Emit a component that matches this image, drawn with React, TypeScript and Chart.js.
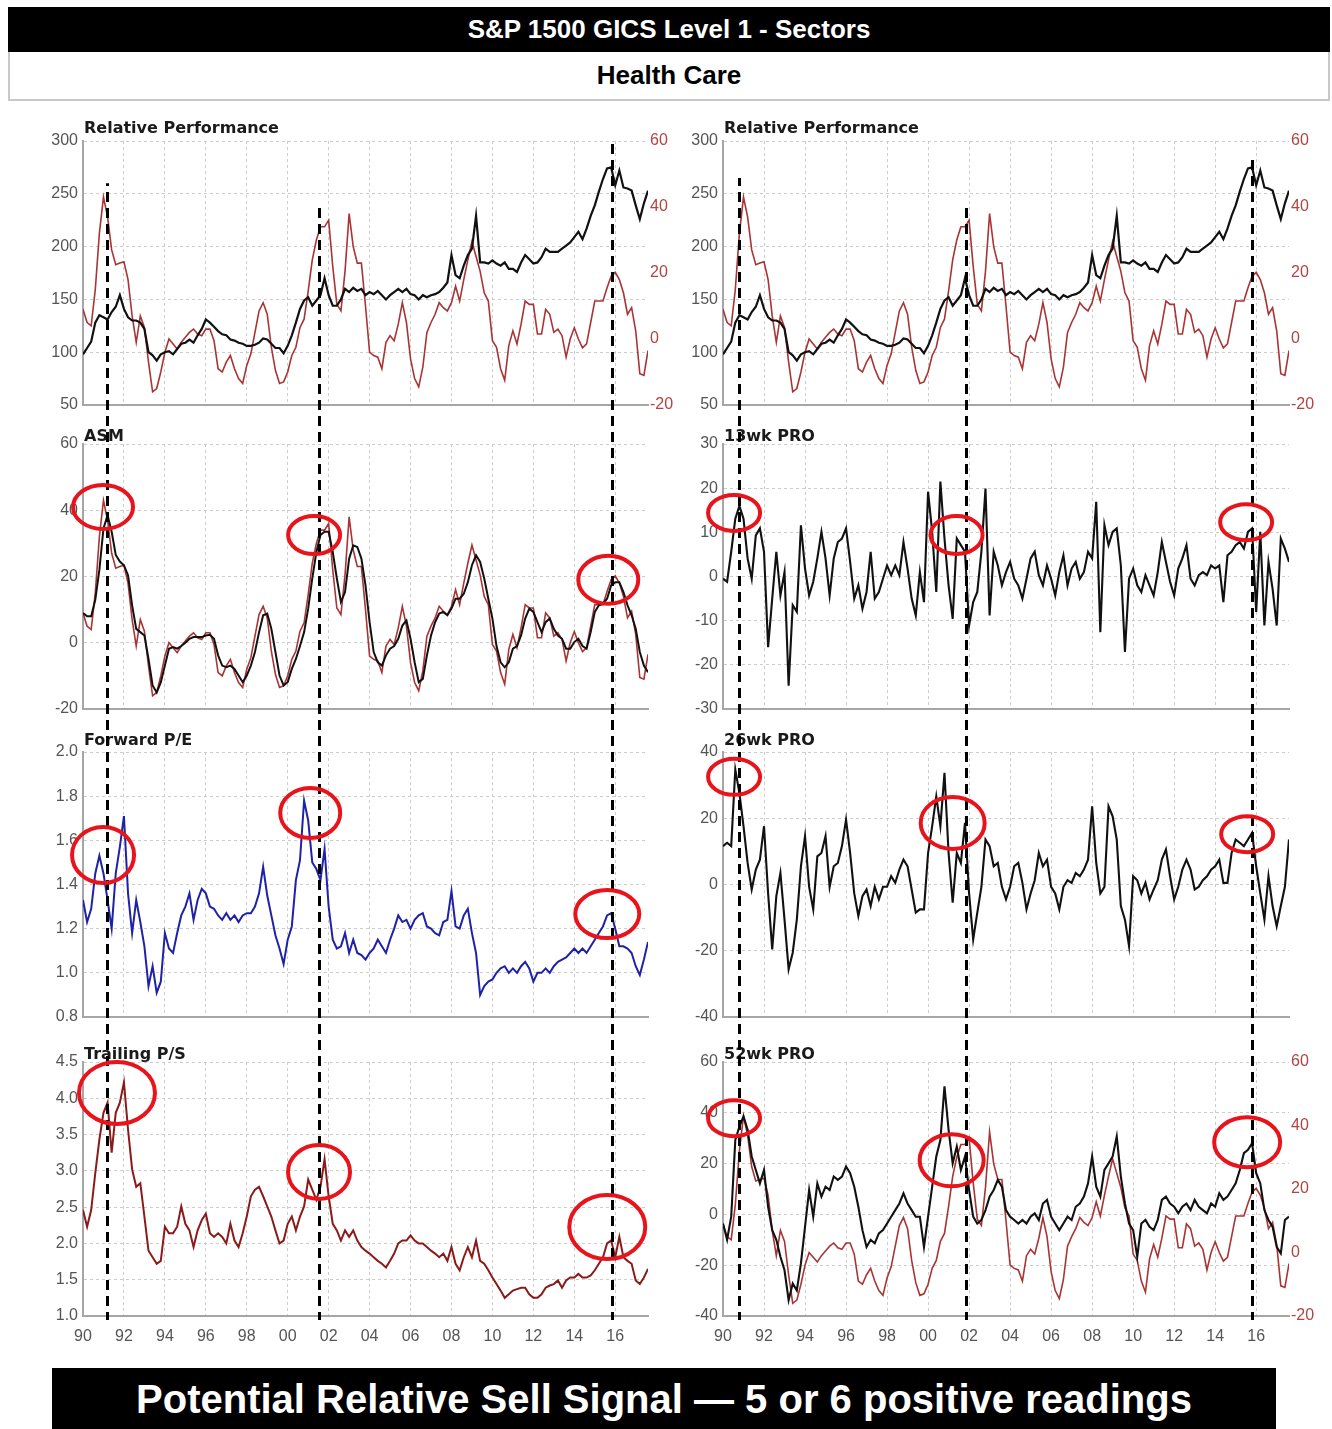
import React, { useEffect, useRef } from 'react';
import { Chart, registerables } from 'chart.js';

Chart.register(...registerables);
Chart.defaults.font.family = "'Liberation Sans', Arial, sans-serif";
Chart.defaults.font.size = 16;

// Samples every 0.2 year, 1990.0 ... 2017.6 (139 points)
const relPerf = [
  98, 104, 110, 128, 135,
  133, 131, 138, 143, 154,
  141, 133, 130, 130, 128,
  122, 100, 97, 92, 98,
  100, 101, 98, 103, 108,
  109, 112, 109, 116, 122,
  131, 128, 124, 120, 117,
  116, 112, 111, 109, 108,
  106, 106, 107, 109, 113,
  112, 108, 104, 104, 99,
  106, 116, 128, 141, 149,
  152, 144, 149, 154, 170,
  154, 144, 144, 150, 160,
  157, 161, 158, 160, 154,
  157, 155, 158, 154, 150,
  154, 157, 160, 157, 160,
  155, 154, 150, 154, 152,
  154, 155, 157, 161, 166,
  192, 173, 170, 182, 192,
  198, 229, 185, 185, 184,
  187, 184, 182, 185, 179,
  179, 176, 185, 192, 188,
  184, 185, 190, 198, 195,
  195, 195, 198, 201, 204,
  209, 214, 207, 217, 229,
  239, 252, 264, 274, 275,
  258, 272, 256, 255, 253,
  239, 226, 241, 253,
];

const asmFast = [
  9, 5, 4, 15, 32,
  43, 37, 27, 22.5, 23,
  23.4, 18, 7, -1, 7,
  3.5, -7, -16, -15, -10,
  -4, 0, -1.5, -3, -1,
  0.5, 2, 3, 1.5, 1,
  3, 3, -0.5, -9, -10,
  -7, -5, -9, -12, -13.5,
  -8, -4.5, 2, 8.5, 11,
  7.5, -2.5, -9.5, -13.5, -13,
  -10, -5, -2.5, 3.5, 6,
  14.5, 24, 30, 34, 34,
  36, 22, 10.5, 8.5, 20.5,
  38, 28, 23, 23, 10,
  -4, -5, -5.5, -9, -1,
  1, -0.5, 4.5, 11, 5,
  -6, -12, -14.5, -8.5, 2,
  5, 7.5, 11, 9.5, 8.5,
  11, 16, 11.5, 18, 24,
  29.5, 25, 20.5, 14, 11.5,
  -0.5, -2.5, -9, -12.5, -2,
  2.5, -1.5, 4.5, 11.5, 10.5,
  10.5, 1.5, 1.5, 9, 7.5,
  2, 3, 1, -5.5, 0,
  3.4, 0, -2.7, -1.5, 5,
  11.5, 11.5, 11.5, 15.5, 19,
  20.2, 18, 14, 7.5, 9.5,
  2.5, -10.5, -11, -3.5,
];

const asmSlow = [
  9, 8, 8, 13, 22,
  34.5, 38.5, 33.5, 26.5, 24.5,
  23.4, 20.4, 11.3, 4.2, 3.2,
  2.2, -4.9, -12.9, -15, -12,
  -6.9, -1.8, -1.3, -1.8, -1,
  0, 1.2, 1.7, 1.7, 1.7,
  2.2, 2.4, 1.2, -3.8, -6.9,
  -7.4, -6.9, -7.9, -9.9, -11.9,
  -9.9, -6.9, -2.8, 3.2, 8.3,
  8.8, 4.2, -2.8, -9.9, -12.9,
  -11.9, -7.9, -4.9, -1, 3.2,
  10.3, 19.4, 27.4, 32.5, 33.5,
  33.5, 27.4, 19.4, 12.3, 15.3,
  25.4, 29.4, 28.9, 25.4, 17.3,
  6.2, -2.8, -5.9, -6.9, -3.8,
  -1.8, -1, 1.2, 5.2, 6.7,
  1.2, -5.9, -11.9, -10.9, -3.8,
  2.2, 6.2, 8.8, 9.3, 8.3,
  10.3, 13.3, 13.3, 14.8, 18.3,
  23.4, 26.4, 24.4, 19.4, 13.3,
  7.3, -1, -5.9, -7.4, -5.9,
  -1.8, -1, 2.2, 7.3, 10.3,
  9.3, 6.2, 3.2, 6.2, 7.3,
  4.2, 2.2, 1.2, -1.8, -1.8,
  0.2, 1.2, -1, -1.8, 3.2,
  9.3, 11.3, 11.8, 13.3, 17.3,
  18.3, 18.3, 15.3, 11.3, 8.3,
  4.2, -2.8, -6.9, -8.9,
];

const fwdPE = [
  1.33, 1.23, 1.29, 1.45, 1.53,
  1.45, 1.33, 1.2, 1.45, 1.57,
  1.71, 1.36, 1.18, 1.33, 1.23,
  1.12, 0.94, 1.03, 0.91, 0.96,
  1.18, 1.11, 1.09, 1.18, 1.26,
  1.3, 1.36, 1.24, 1.33, 1.38,
  1.36, 1.3, 1.29, 1.26, 1.24,
  1.27, 1.24, 1.26, 1.23, 1.26,
  1.27, 1.27, 1.3, 1.36, 1.48,
  1.35, 1.26, 1.17, 1.11, 1.04,
  1.15, 1.21, 1.42, 1.51, 1.78,
  1.69, 1.5, 1.47, 1.42, 1.56,
  1.3, 1.15, 1.11, 1.12, 1.18,
  1.09, 1.15, 1.09, 1.08, 1.06,
  1.09, 1.11, 1.15, 1.12, 1.09,
  1.15, 1.2, 1.26, 1.23, 1.24,
  1.2, 1.24, 1.26, 1.27, 1.21,
  1.2, 1.18, 1.17, 1.23, 1.24,
  1.37, 1.21, 1.2, 1.26, 1.29,
  1.18, 1.09, 0.9, 0.94, 0.96,
  0.97, 1.0, 1.02, 1.03, 1.0,
  1.02, 1.0, 1.03, 1.05, 1.02,
  0.96, 1.0, 1.0, 1.02, 1.0,
  1.03, 1.05, 1.06, 1.07, 1.09,
  1.11, 1.09, 1.11, 1.09, 1.12,
  1.15, 1.18, 1.21, 1.26, 1.27,
  1.2, 1.12, 1.12, 1.11, 1.09,
  1.03, 0.99, 1.06, 1.14,
];

const trailPS = [
  2.46, 2.23, 2.46, 2.97, 3.43,
  3.8, 3.94, 3.25, 3.8, 3.94,
  4.22, 3.57, 3.02, 2.78, 2.83,
  2.37, 1.9, 1.81, 1.72, 1.76,
  2.23, 2.14, 2.14, 2.23, 2.51,
  2.27, 2.18, 1.95, 2.18, 2.32,
  2.41, 2.14, 2.09, 2.14, 2.09,
  2.0, 2.27, 2.04, 1.95, 2.14,
  2.37, 2.65, 2.74, 2.78, 2.65,
  2.51, 2.37, 2.18, 2.0, 2.04,
  2.27, 2.37, 2.18, 2.37, 2.51,
  2.88, 2.74, 2.6, 2.78, 3.16,
  2.65, 2.27, 2.18, 2.04, 2.18,
  2.09, 2.18, 2.04, 1.95, 1.9,
  1.86, 1.81, 1.76, 1.72, 1.67,
  1.76, 1.86, 2.0, 2.04, 2.04,
  2.11, 2.04, 2.0, 2.0, 1.95,
  1.9, 1.86, 1.81, 1.86, 1.76,
  1.95, 1.72, 1.63, 1.81, 1.95,
  1.81, 2.04, 1.76, 1.72, 1.63,
  1.53, 1.44, 1.35, 1.25, 1.3,
  1.35, 1.37, 1.39, 1.39, 1.3,
  1.25, 1.25, 1.3, 1.39, 1.42,
  1.44, 1.49, 1.39, 1.49, 1.53,
  1.53, 1.58, 1.53, 1.53, 1.56,
  1.63, 1.72, 1.81, 2.0, 2.04,
  1.81, 2.09, 1.81, 1.76, 1.72,
  1.49, 1.44, 1.53, 1.65,
];

const pro13 = [
  -0.5, -1.2, 5.6, 13.1, 16,
  13.1, 4.1, -0.5, 9.3, 10.9,
  5.6, -16, -5, 5.6, -4.3,
  1.0, -24.7, -6.5, -8, 11.6,
  1.8, -4.3, -1.2, 4.1, 10.1,
  4.1, -4.3, 4.1, 7.8, 8.6,
  10.9, 3.3, -5, -2, -7.3,
  -3.5, 5.6, -5, -3.5, -0.5,
  2.5, 0.3, 2.5, 0.3, 7.8,
  1.8, -5, -8.8, 1.0, -5.8,
  19.2, 10.1, -3.5, 21.5, 8.6,
  -2, -9.6, 8.6, 7.1, 5.6,
  -11.1, -5.8, -3.5, 5.6, 19.9,
  -8.8, 5.6, 2.5, -2, 1.0,
  3.3, -0.5, -2, -5, -0.5,
  4.1, 5.6, 0.3, -2, 2.5,
  -0.5, -4.3, 1.0, 4.8, -2,
  1.8, 3.3, -0.5, 1.0, 5.6,
  4.1, 16.9, -12.6, 11.6, 7.1,
  10.1, 10.9, 2.5, -17.1, -0.5,
  1.8, -2, -3.5, 0.3, -2,
  -4.3, 1.0, 7.8, 3.3, -1.2,
  -4.3, 1.8, 4.1, 7.1, -0.5,
  -2, 0.3, 1.0, 0.3, 2.5,
  1.8, 2.5, -5.8, 4.8, 5.6,
  7.1, 7.8, 6.3, 10.1, 10.9,
  -8, 10.1, -11.1, 3.3, -2.8,
  -11.1, 8.6, 6.3, 3.3,
];

const pro26 = [
  11.6, 12.6, 11.6, 34.7, 27.6,
  17.6, 6.5, -1.5, 4.5, 7.5,
  17.6, -2.7, -19.6, -3.5, 3.5,
  -10.6, -25.6, -20.6, -10.6, 5.5,
  14.6, -0.7, -7.5, 8.5, 9.5,
  14.6, -0.7, 5.5, 6.5, 11.6,
  19.6, 9.5, -2.7, -9.5, -3.5,
  -1.5, -6.5, -0.7, -4.5, -0.7,
  -0.7, 2.5, 0.5, 4.5, 7.5,
  5.5, -1.5, -8.5, -7.5, -7.5,
  9.5, 17.6, 26.6, 17.6, 33.7,
  9.5, -5.5, 9.5, 6.5, 18.6,
  -2.7, -16.6, -8.5, -0.7, 13.6,
  11.6, 5.5, 6.5, -0.7, -4.5,
  -0.7, 5.5, 6.5, 0.5, -7.5,
  -2.7, 1.3, 9.5, 5.5, 7.5,
  -0.7, -2.7, -7.5, -0.7, 1.3,
  0.5, 3.5, 2.5, 4.5, 7.5,
  23.6, 6.5, -2.7, -0.7, 23.6,
  20.6, 13.6, -6.5, -10.6, -18.6,
  2.5, 1.3, -2.7, 0.5, -4.5,
  -1.5, 1.3, 7.5, 10.6, 2.5,
  -4.5, -0.7, 4.5, 7.5, 4.5,
  -1.5, -0.7, 1.3, 2.5, 4.5,
  5.5, 7.5, 0.5, 0.5, 9.5,
  13.6, 12.6, 11.6, 13.6, 15.6,
  5.5, -2.7, -10.6, 2.5, -6.5,
  -12.6, -6.5, -0.7, 13.6,
];

const pro52 = [
  -3.6, -10, -0.9, 29.3, 34.6,
  38.6, 33.3, 22.8, 17.5, 12.2,
  17.5, 3.0, -6.2, -10, -16.7,
  -22, -33.8, -27.2, -29.9, -19.3,
  -4.9, 9.6, -0.9, 12.2, 7,
  10.9, 9.6, 14.9, 13.6, 14.9,
  18.8, 16.2, 10.9, 3, -6.2,
  -12.8, -10, -11.4, -7.5, -6.2,
  -3.6, -0.9, 1.7, 4.3, 8.3,
  4.3, 1.7, -0.9, -0.9, -12.8,
  -0.9, 10.9, 22.8, 29.3, 50.4,
  33.3, 20.1, 26.7, 17.5, 22.8,
  9.6, -0.9, -3.6, -2.2, 1.7,
  7, 9.6, 13.6, 10.9, 1.7,
  -0.9, -2.2, -3.6, -2.2, -3.6,
  -0.9, 0.4, -2.2, 4.3, 5.7,
  -0.9, -3.6, -6.2, -3.6, -0.9,
  -2.2, 3, 4.3, 7, 12.2,
  22.8, 10.9, 7, 17.5, 20.1,
  22.8, 30.7, 14.9, 4.3, -3.6,
  -6.2, -16.7, -3.6, -2.2, -4.9,
  -6.2, -2.2, 5.7, 7, 4.3,
  3, 0.4, 3, 4.3, 1.7,
  5.7, 3, 1.7, 0.4, 4.3,
  3, 8.3, 5.7, 7, 9.6,
  12.2, 17.5, 24.1, 25.4, 28,
  16.2, 12.2, 1.7, -2.2, -4.9,
  -12.8, -15.4, -2.2, -0.9,
];

// sample dates (decimal years)
const dates = relPerf.map((_, i) => Math.round((1990 + i * 0.2) * 10) / 10);
const X_MIN = 1990;
const X_MAX = 2017.6;

// sell-signal dates; "top" = value on the Relative Performance axis where the line starts
const leftSignals = [
  { x: 1991.17, top: 260 },
  { x: 2001.53, top: 237 },
  { x: 2015.85, top: 298 },
];
const rightSignals = [
  { x: 1990.8, top: 265 },
  { x: 2001.83, top: 237 },
  { x: 2015.8, top: 284 },
];

// highlighted readings (data-space centres)
const asmMarks = [{ x: 1990.98, y: 41 }, { x: 2001.29, y: 32.5 }, { x: 2015.66, y: 19 }];
const peMarks = [{ x: 1990.98, y: 1.534 }, { x: 2001.1, y: 1.724 }, { x: 2015.61, y: 1.266 }];
const psMarks = [{ x: 1991.66, y: 4.073 }, { x: 2001.53, y: 2.984 }, { x: 2015.61, y: 2.226 }];
const p13Marks = [{ x: 1990.54, y: 14.4 }, { x: 2001.39, y: 9.4 }, { x: 2015.51, y: 12.3 }];
const p26Marks = [{ x: 1990.54, y: 32.5 }, { x: 2001.2, y: 18.6 }, { x: 2015.56, y: 15.2 }];
const p52Marks = [{ x: 1990.54, y: 37.9 }, { x: 2001.15, y: 21.3 }, { x: 2015.56, y: 28.4 }];

// styles
const BLACK = '#111111';
const RED = '#a83434';
const MAROON = '#8a1b1b';
const BLUE = '#1f22a6';
const GRID = '#cccccc';
const AXIS = '#a6a6a6';
const TICK = '#555555';
const TICK_R = '#b04440';

const ROWS = [
  { top: 110, height: 314, padTop: 31, padBottom: 19 },
  { top: 424, height: 306, padTop: 20, padBottom: 21 },
  { top: 730, height: 310, padTop: 22, padBottom: 23 },
  { top: 1040, height: 320, padTop: 22, padBottom: 0 },
];
const COLS = [
  { left: 40, width: 640, axisW: 43, rightW: 32, signals: leftSignals },
  { left: 680, width: 650, axisW: 43, rightW: 41, signals: rightSignals },
];

const fix1 = (v: any) => Number(v).toFixed(1);
const plain = (v: any) => String(Math.round(Number(v)));

const rpPanel = {
  title: 'Relative Performance', titleDy: 8,
  y: { min: 50, max: 300, step: 50, fmt: plain },
  y2: { min: -20, max: 60, step: 20, fmt: plain },
  series: [
    { data: relPerf, color: BLACK, width: 2.2, axis: 'y' },
    { data: asmFast, color: RED, width: 1.6, axis: 'y2' },
  ],
  marks: [] as any[], rx: [] as number[], ry: [] as number[],
};

const panels = [
  [
    rpPanel,
    {
      title: 'ASM', titleDy: 3,
      y: { min: -20, max: 60, step: 20, fmt: plain },
      series: [
        { data: asmSlow, color: BLACK, width: 2, axis: 'y' },
        { data: asmFast, color: RED, width: 1.6, axis: 'y' },
      ],
      marks: asmMarks, rx: [30, 26, 30], ry: [22, 19, 24],
    },
    {
      title: 'Forward P/E', titleDy: 7,
      y: { min: 0.8, max: 2.0, step: 0.2, fmt: fix1 },
      series: [{ data: fwdPE, color: BLUE, width: 2, axis: 'y' }],
      marks: peMarks, rx: [31, 30, 32], ry: [28, 25, 24],
    },
    {
      title: 'Trailing P/S', titleDy: 3,
      y: { min: 1.0, max: 4.5, step: 0.5, fmt: fix1 },
      series: [{ data: trailPS, color: MAROON, width: 2, axis: 'y' }],
      marks: psMarks, rx: [38, 31, 38], ry: [31, 27, 32],
    },
  ],
  [
    rpPanel,
    {
      title: '13wk PRO', titleDy: 3,
      y: { min: -30, max: 30, step: 10, fmt: plain },
      series: [{ data: pro13, color: BLACK, width: 2.1, axis: 'y' }],
      marks: p13Marks, rx: [26, 26, 26], ry: [18, 19, 18],
    },
    {
      title: '26wk PRO', titleDy: 7,
      y: { min: -40, max: 40, step: 20, fmt: plain },
      series: [{ data: pro26, color: BLACK, width: 2.1, axis: 'y' }],
      marks: p26Marks, rx: [26, 32, 26], ry: [18, 26, 18],
    },
    {
      title: '52wk PRO', titleDy: 3,
      y: { min: -40, max: 60, step: 20, fmt: plain },
      y2: { min: -20, max: 60, step: 20, fmt: plain },
      series: [
        { data: pro52, color: BLACK, width: 2.1, axis: 'y' },
        { data: asmFast, color: RED, width: 1.6, axis: 'y2' },
      ],
      marks: p52Marks, rx: [26, 32, 33], ry: [18, 26, 25],
    },
  ],
];

function Panel({ cfg, col, row }: any) {
  const ref = useRef<HTMLCanvasElement>(null);
  const C = COLS[col];
  const R = ROWS[row];
  useEffect(() => {
    const isBottom = row === 3;
    const hasRight = !!cfg.y2;
    const overlay = {
      id: 'overlay' + col + row,
      afterDatasetsDraw(chart: any) {
        const { ctx, chartArea, scales } = chart;
        const xs = scales.x;
        const ys = scales.y;
        ctx.save();
        // panel title
        ctx.font = "bold 16px 'DejaVu Sans', Verdana, sans-serif";
        ctx.fillStyle = '#1a1a1a';
        ctx.textAlign = 'left';
        ctx.textBaseline = 'alphabetic';
        ctx.fillText(cfg.title, chartArea.left + 1, chartArea.top - cfg.titleDy);
        // dashed signal lines
        ctx.strokeStyle = '#000';
        ctx.lineWidth = 3;
        const period = 16;
        ctx.setLineDash([10, 6]);
        for (const s of C.signals) {
          const px = Math.round(xs.getPixelForValue(s.x)) + 0.5;
          const y0 = row === 0 ? ys.getPixelForValue(s.top) : 0;
          const y1 = isBottom ? chartArea.bottom + 4 : chart.height;
          ctx.lineDashOffset = (R.top + y0) % period;
          ctx.beginPath();
          ctx.moveTo(px, y0);
          ctx.lineTo(px, y1);
          ctx.stroke();
        }
        // circles
        ctx.setLineDash([]);
        ctx.strokeStyle = '#e8141c';
        ctx.lineWidth = 4;
        cfg.marks.forEach((m: any, i: number) => {
          ctx.beginPath();
          ctx.ellipse(xs.getPixelForValue(m.x), ys.getPixelForValue(m.y), cfg.rx[i], cfg.ry[i], 0, 0, Math.PI * 2);
          ctx.stroke();
        });
        ctx.restore();
      },
    };

    const scales: any = {
      x: {
        type: 'linear',
        min: X_MIN,
        max: X_MAX,
        afterFit: (s: any) => { s.height = isBottom ? 44 : 0; },
        ticks: {
          display: isBottom,
          stepSize: 2,
          includeBounds: false,
          autoSkip: false,
          maxRotation: 0,
          padding: 11,
          color: TICK,
          font: { size: 16 },
          callback: (v: any) => String(Math.round(Number(v)) % 100).padStart(2, '0'),
        },
        grid: { color: GRID, lineWidth: 1, drawTicks: false },
        border: { display: true, color: AXIS, width: 2, dash: [3, 3] },
      },
      y: {
        type: 'linear',
        position: 'left',
        min: cfg.y.min,
        max: cfg.y.max,
        afterFit: (s: any) => { s.width = C.axisW; },
        ticks: { stepSize: cfg.y.step, padding: 5, color: TICK, font: { size: 16 }, callback: cfg.y.fmt },
        grid: { color: GRID, lineWidth: 1, drawTicks: false },
        border: { display: true, color: AXIS, width: 2, dash: [3, 3] },
      },
    };
    if (hasRight) {
      scales.y2 = {
        type: 'linear',
        position: 'right',
        min: cfg.y2.min,
        max: cfg.y2.max,
        afterFit: (s: any) => { s.width = C.rightW; },
        ticks: { stepSize: cfg.y2.step, padding: 2, color: TICK_R, font: { size: 16 }, callback: cfg.y2.fmt },
        grid: { display: false, drawTicks: false },
        border: { display: false },
      };
    }

    const chart = new Chart(ref.current as HTMLCanvasElement, {
      type: 'line',
      data: {
        datasets: cfg.series.map((s: any) => ({
          data: dates.map((d, i) => ({ x: d, y: s.data[i] })),
          borderColor: s.color,
          borderWidth: s.width,
          pointRadius: 0,
          tension: 0,
          fill: false,
          yAxisID: s.axis,
        })),
      },
      options: {
        responsive: false,
        animation: false,
        events: [],
        layout: {
          padding: { top: R.padTop, bottom: R.padBottom, left: 0, right: hasRight ? 0 : C.rightW },
        },
        plugins: { legend: { display: false }, tooltip: { enabled: false }, title: { display: false } },
        scales,
      } as any,
      plugins: [overlay],
    });
    return () => chart.destroy();
  }, []);
  return (
    <canvas
      ref={ref}
      width={C.width}
      height={R.height}
      style={{ position: 'absolute', left: C.left, top: R.top, width: C.width, height: R.height, display: 'block' }}
    />
  );
}

export default function App() {
  const font = "'Liberation Sans', Arial, Helvetica, sans-serif";
  return (
    <div style={{ position: 'absolute', left: 0, top: 0, width: 1332, height: 1429, background: '#fff', overflow: 'hidden' }}>
      <div
        style={{
          position: 'absolute', left: 8, top: 7, width: 1322, height: 45, background: '#000', color: '#fff',
          fontFamily: font, fontWeight: 'bold', fontSize: 26, display: 'flex', alignItems: 'center', justifyContent: 'center',
        }}
      >
        S&amp;P 1500 GICS Level 1 - Sectors
      </div>
      <div
        style={{
          position: 'absolute', left: 8, top: 52, width: 1322, height: 49, boxSizing: 'border-box',
          border: '2px solid #c8c8c8', borderTop: 'none', background: '#fff', color: '#000',
          fontFamily: font, fontWeight: 'bold', fontSize: 26, display: 'flex', alignItems: 'center', justifyContent: 'center',
        }}
      >
        Health Care
      </div>
      {panels.map((colPanels, c) =>
        colPanels.map((cfg, r) => <Panel key={c + '-' + r} cfg={cfg} col={c} row={r} />)
      )}
      <div
        style={{
          position: 'absolute', left: 52, top: 1368, width: 1224, height: 61, background: '#000', color: '#fff',
          fontFamily: font, fontWeight: 'bold', fontSize: 40, display: 'flex', alignItems: 'center', justifyContent: 'center',
          paddingTop: 2, boxSizing: 'border-box',
        }}
      >
        Potential Relative Sell Signal — 5 or 6 positive readings
      </div>
    </div>
  );
}
